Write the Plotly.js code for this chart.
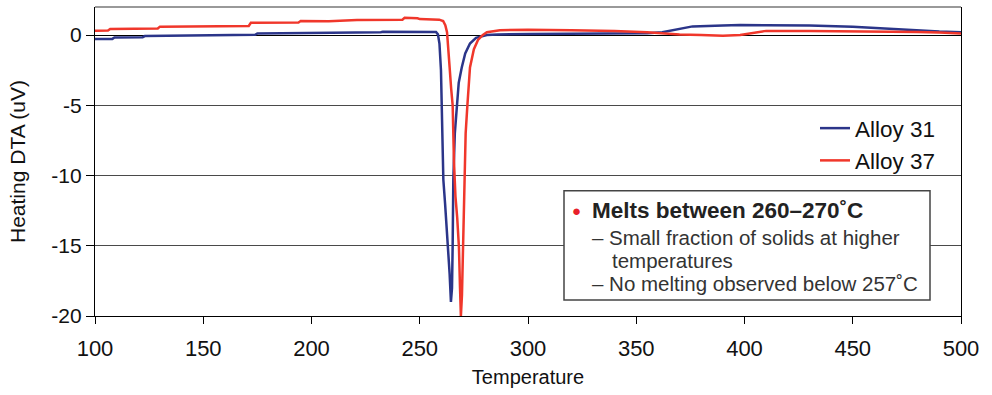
<!DOCTYPE html>
<html>
<head>
<meta charset="utf-8">
<script src="https://cdn.plot.ly/plotly-3.0.1.min.js"></script>
<style>html,body{margin:0;padding:0;background:#fff;}#chart{width:992px;height:395px;}</style>
</head>
<body>
<div id="chart"></div>
<script>
// ---- data ----
const alloy31Temp = [100, 108, 109, 122, 123, 148, 149, 174, 175, 203, 204, 232, 233, 250, 256, 257.5, 258.4, 259.1, 259.8, 260.5, 260.9, 261.7, 262.5, 263.2, 263.8, 264.4, 264.9, 265.2, 265.5, 266.2, 267.1, 268, 269.4, 271, 273.2, 276, 281, 286, 301, 320, 347, 355, 362, 368, 376, 390, 398, 410, 430, 450, 458, 465, 470, 480, 490, 500];
const alloy31Val  = [-0.28, -0.27, -0.17, -0.15, -0.07, -0.05, 0.0, 0.02, 0.12, 0.14, 0.19, 0.2, 0.24, 0.25, 0.26, 0.22, 0.05, -0.6, -2.5, -7, -10.3, -12, -13.8, -15.2, -17, -19, -18, -15, -10.3, -7, -5, -3.4, -2.3, -1.3, -0.6, -0.2, 0.0, 0.05, 0.07, 0.1, 0.12, 0.13, 0.2, 0.4, 0.62, 0.68, 0.72, 0.7, 0.68, 0.6, 0.52, 0.45, 0.42, 0.33, 0.25, 0.2];

const alloy37Temp = [100, 106, 107, 129, 130, 171, 172, 194, 195, 208, 221, 242, 243, 249, 250, 259, 260.8, 261.8, 262.6, 263.3, 263.8, 264.5, 265.2, 265.8, 266.5, 267.3, 268.1, 268.6, 269.0, 269.5, 270.1, 270.4, 271.2, 272, 273.2, 275, 276.9, 279, 281, 287, 300, 320, 340, 355, 362, 370, 380, 390, 398, 405, 410, 430, 450, 470, 480, 490, 500];
const alloy37Val  = [0.31, 0.33, 0.43, 0.47, 0.6, 0.65, 0.88, 0.9, 1.0, 0.98, 1.07, 1.1, 1.23, 1.2, 1.14, 1.1, 1.0, 0.7, 0.2, -1, -2.3, -3.8, -5, -9, -11.5, -13, -15.1, -18, -20, -18.5, -15, -12, -7, -5, -2.3, -1, -0.35, 0.0, 0.2, 0.35, 0.38, 0.35, 0.3, 0.2, 0.12, 0.05, 0.0, -0.05, 0.0, 0.18, 0.3, 0.3, 0.28, 0.25, 0.22, 0.18, 0.12];

const seriesNames = ["Alloy 31", "Alloy 37"];
const xTickVals = [100, 150, 200, 250, 300, 350, 400, 450, 500];
const yTickVals = [-20, -15, -10, -5, 0];
const yTickText = ["-20", "-15", "-10", "-5", "0"];
const noteTitle = "Melts between 260–270˚C";
const noteLines = ["– Small fraction of solids at higher", "temperatures", "– No melting observed below 257˚C"];

const FONT = "Liberation Sans, Arial, Helvetica, sans-serif";
const BLUE = "#2b3589";
const RED = "#f0372b";

const traces = [
  {x: alloy31Temp, y: alloy31Val, name: seriesNames[0], type: "scatter", mode: "lines",
   line: {color: BLUE, width: 2.5}},
  {x: alloy37Temp, y: alloy37Val, name: seriesNames[1], type: "scatter", mode: "lines",
   line: {color: RED, width: 2.5}}
];

const W = 866, H = 309, L = 95, T = 7;
const px = v => (v - L) / W;
const py = v => (T + H - v) / H;

const layout = {
  width: 992, height: 395,
  margin: {l: 95, r: 31, t: 7, b: 79},
  paper_bgcolor: "#fff", plot_bgcolor: "#fff",
  font: {family: FONT, color: "#111"},
  showlegend: true,
  legend: {x: px(815), y: py(107), xanchor: "left", yanchor: "top",
           bgcolor: "rgba(0,0,0,0)", font: {size: 22.5, family: FONT, color: "#111"},
           tracegroupgap: 0},
  xaxis: {range: [100, 500], tickvals: xTickVals, ticks: "outside", ticklen: 7, tickcolor: "#000",
          showline: true, linecolor: "#000", linewidth: 1.3, showgrid: false, zeroline: false,
          ticklabelstandoff: 5,
          tickfont: {size: 22, family: FONT, color: "#111"},
          title: {text: "Temperature", font: {size: 20, family: FONT, color: "#111"}, standoff: 10}},
  yaxis: {range: [-20, 2], tickvals: yTickVals, ticktext: yTickText, ticks: "outside", ticklen: 8,
          tickcolor: "#000", showline: true, linecolor: "#000", linewidth: 1.3, mirror: true,
          showgrid: true, gridcolor: "#4a4a4a", gridwidth: 1.2,
          zeroline: true, zerolinecolor: "#000", zerolinewidth: 1.2,
          tickfont: {size: 21, family: FONT, color: "#111"},
          title: {text: "Heating DTA (uV)", font: {size: 21, family: FONT, color: "#111"}, standoff: 19}},
  shapes: [
    {type: "line", xref: "paper", yref: "paper", x0: 0, x1: 1, y0: 1, y1: 1,
     line: {color: "#777", width: 1.5}},
    {type: "rect", xref: "paper", yref: "paper", x0: px(564), x1: px(930), y0: py(300), y1: py(190.7),
     line: {color: "#444", width: 1.5}, fillcolor: "#fff", layer: "above"}
  ],
  annotations: [
    {xref: "paper", yref: "paper", x: px(576), y: py(210), xanchor: "center", yanchor: "middle",
     text: "●", showarrow: false, font: {size: 15, color: "#e8202a", family: FONT}},
    {xref: "paper", yref: "paper", x: px(590), y: py(211), xanchor: "left", yanchor: "middle",
     text: "<b>" + noteTitle + "</b>", showarrow: false, font: {size: 22.5, color: "#222", family: FONT}},
    {xref: "paper", yref: "paper", x: px(590), y: py(237), xanchor: "left", yanchor: "middle",
     text: noteLines[0], showarrow: false, font: {size: 20.5, color: "#333", family: FONT}},
    {xref: "paper", yref: "paper", x: px(610), y: py(260), xanchor: "left", yanchor: "middle",
     text: noteLines[1], showarrow: false, font: {size: 20.5, color: "#333", family: FONT}},
    {xref: "paper", yref: "paper", x: px(590), y: py(283), xanchor: "left", yanchor: "middle",
     text: noteLines[2], showarrow: false, font: {size: 20.5, color: "#333", family: FONT}}
  ]
};

Plotly.newPlot("chart", traces, layout, {displayModeBar: false, responsive: false});
</script>
</body>
</html>
